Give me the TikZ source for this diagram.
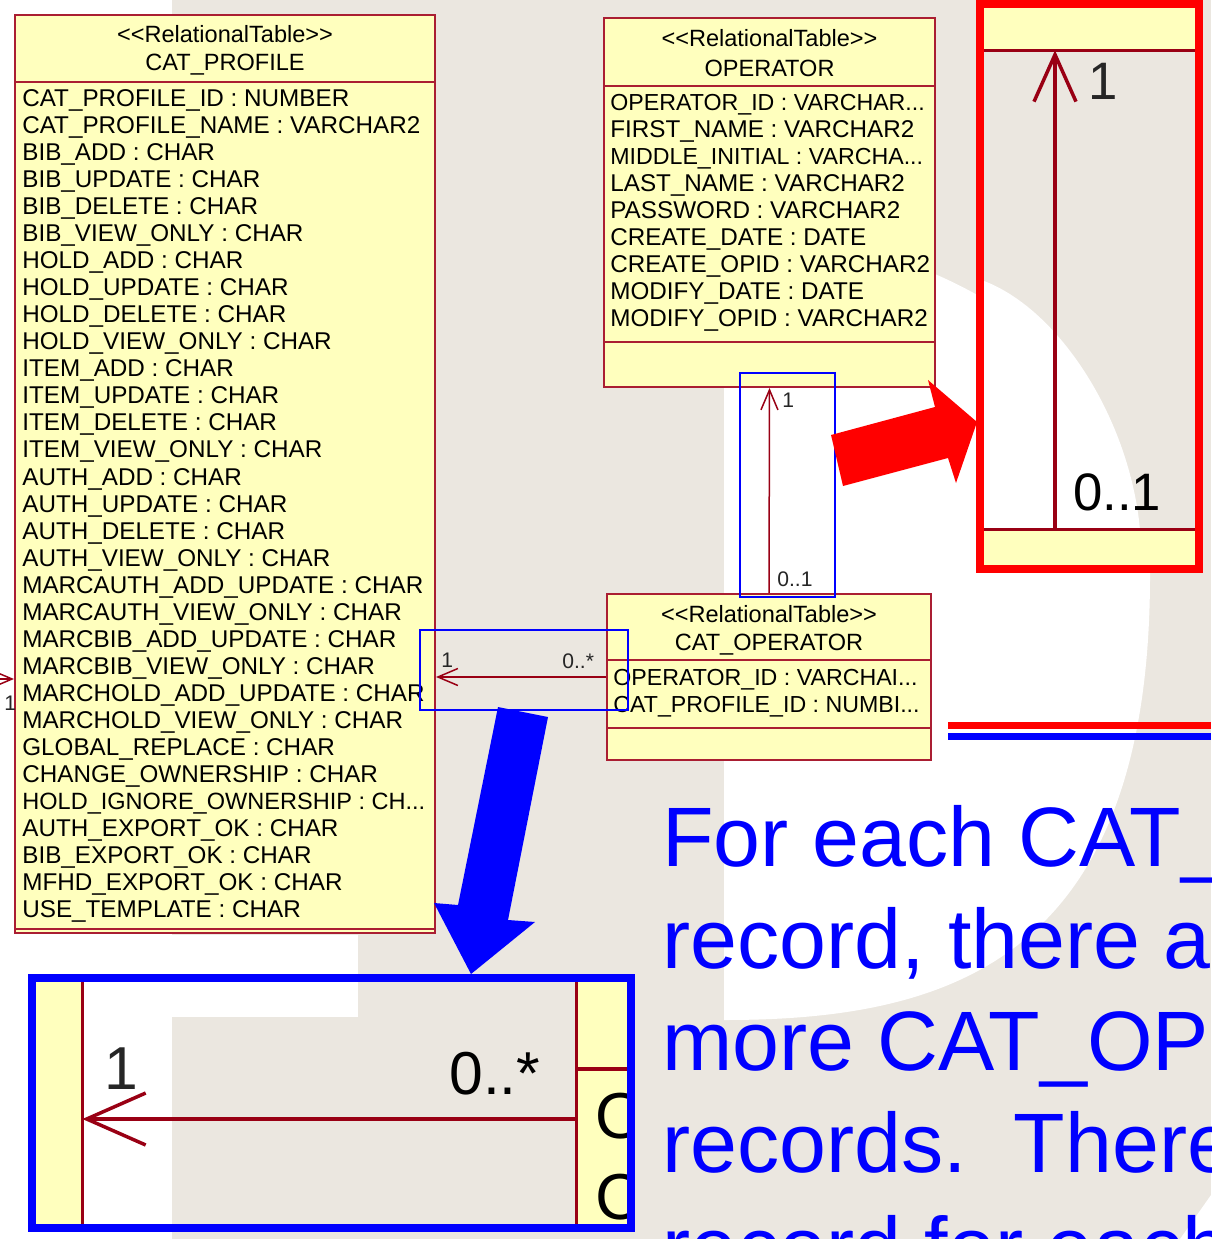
\documentclass[tikz,border=0pt]{standalone}
\usepackage{fontspec}
\setmainfont{Liberation Sans}
\usetikzlibrary{arrows.meta,fit}

\definecolor{umlyellow}{RGB}{255,255,190}
\definecolor{umlred}{RGB}{170,30,50}
\definecolor{linkred}{RGB}{153,0,20}
\definecolor{slidebeige}{RGB}{235,231,224}

\begin{document}
\begin{tikzpicture}[x=0.02cm, y=-0.02cm,
    umltable/.style={draw=umlred, fill=umlyellow, line width=0.04cm, inner sep=0pt},
    compart/.style={draw=umlred, line width=0.03cm},
    attr/.style={anchor=base west, inner sep=0pt, font=\fontsize{13.8}{16}\selectfont},
    cutattr/.style={attr, font=\fontsize{13.2}{16}\selectfont},
    titletext/.style={anchor=base, inner sep=0pt, font=\fontsize{13.4}{16}\selectfont},
    assoc/.style={draw=linkred, line width=0.03cm, -{Straight Barb[length=0.4cm, width=0.34cm]}},
    multlabel/.style={anchor=base west, inner sep=0pt, font=\fontsize{12}{14}\selectfont, text=black!85},
    hilite/.style={draw=blue, line width=0.04cm, inner sep=0pt},
    zoomline/.style={draw=linkred, line width=0.07cm},
    zoomframe/.style={line width=0.16cm, inner sep=0pt},
    bigtext/.style={anchor=base west, inner sep=0pt, text=blue, font=\fontsize{48}{58}\selectfont}
        ]

    \path [use as bounding box] (0,0) rectangle (1211,1239);
    \clip (0,0) rectangle (1211,1239);

    % slide background with the big letters
    \fill [slidebeige] (0,0) rectangle (1211,1239);
    \fill [white] (0,0) rectangle (172,1239);
    \fill [white] (0,935) rectangle (358,975);
    \fill [white] (724,1020) -- (724,230) .. controls (900,230) and (1150,330) .. (1150,575)
        .. controls (1150,960) and (950,1020) .. (724,1020) -- cycle;
    \fill [white] (1211,1195) -- (1180,1239) -- (1211,1239) -- cycle;

    % CAT_PROFILE
    \node [umltable, fit={(15,15) (435,933)}] (profile) {};
    \draw [compart] (profile.west |- 0,82) -- (profile.east |- 0,82);
    \draw [compart] (profile.west |- 0,929) -- (profile.east |- 0,929);
    \node [titletext] (profst) at (225,43) {<\kern0pt<RelationalTable>\kern0pt>};
    \node [titletext] (profname) at (225,71) {CAT\_PROFILE};

    \node [attr] (p1) at (22,107) {CAT\_PROFILE\_ID : NUMBER};
    \node [attr] (p2) at (22,134) {CAT\_PROFILE\_NAME : VARCHAR2};
    \node [attr] (p3) at (22,161) {BIB\_ADD : CHAR};
    \node [attr] (p4) at (22,188) {BIB\_UPDATE : CHAR};
    \node [attr] (p5) at (22,215) {BIB\_DELETE : CHAR};
    \node [attr] (p6) at (22,242) {BIB\_VIEW\_ONLY : CHAR};
    \node [attr] (p7) at (22,269) {HOLD\_ADD : CHAR};
    \node [attr] (p8) at (22,296) {HOLD\_UPDATE : CHAR};
    \node [attr] (p9) at (22,323) {HOLD\_DELETE : CHAR};
    \node [attr] (p10) at (22,350) {HOLD\_VIEW\_ONLY : CHAR};
    \node [attr] (p11) at (22,377) {ITEM\_ADD : CHAR};
    \node [attr] (p12) at (22,404) {ITEM\_UPDATE : CHAR};
    \node [attr] (p13) at (22,431) {ITEM\_DELETE : CHAR};
    \node [attr] (p14) at (22,458) {ITEM\_VIEW\_ONLY : CHAR};
    \node [attr] (p15) at (22,485) {AUTH\_ADD : CHAR};
    \node [attr] (p16) at (22,512) {AUTH\_UPDATE : CHAR};
    \node [attr] (p17) at (22,539) {AUTH\_DELETE : CHAR};
    \node [attr] (p18) at (22,566) {AUTH\_VIEW\_ONLY : CHAR};
    \node [attr] (p19) at (22,593) {MARCAUTH\_ADD\_UPDATE : CHAR};
    \node [attr] (p20) at (22,620) {MARCAUTH\_VIEW\_ONLY : CHAR};
    \node [attr] (p21) at (22,647) {MARCBIB\_ADD\_UPDATE : CHAR};
    \node [attr] (p22) at (22,674) {MARCBIB\_VIEW\_ONLY : CHAR};
    \node [attr] (p23) at (22,701) {MARCHOLD\_ADD\_UPDATE : CHAR};
    \node [attr] (p24) at (22,728) {MARCHOLD\_VIEW\_ONLY : CHAR};
    \node [attr] (p25) at (22,755) {GLOBAL\_REPLACE : CHAR};
    \node [attr] (p26) at (22,782) {CHANGE\_OWNERSHIP : CHAR};
    \node [attr, font=\fontsize{13.4}{16}\selectfont] (p27) at (22,809) {HOLD\_IGNORE\_OWNERSHIP : CH...};
    \node [attr] (p28) at (22,836) {AUTH\_EXPORT\_OK : CHAR};
    \node [attr] (p29) at (22,863) {BIB\_EXPORT\_OK : CHAR};
    \node [attr] (p30) at (22,890) {MFHD\_EXPORT\_OK : CHAR};
    \node [attr] (p31) at (22,917) {USE\_TEMPLATE : CHAR};

    % OPERATOR
    \node [umltable, fit={(604,18) (935,387)}] (oper) {};
    \draw [compart] (oper.west |- 0,86) -- (oper.east |- 0,86);
    \draw [compart] (oper.west |- 0,342) -- (oper.east |- 0,342);
    \node [titletext] (operst) at (769.5,46.5) {<\kern0pt<RelationalTable>\kern0pt>};
    \node [titletext] (opername) at (769.5,76.5) {OPERATOR};

    \node [cutattr] (o1) at (610,110.5) {OPERATOR\_ID : VARCHAR...};
    \node [attr] (o2) at (610,137.5) {FIRST\_NAME : VARCHAR2};
    \node [cutattr] (o3) at (610,164.5) {MIDDLE\_INITIAL : VARCHA...};
    \node [attr] (o4) at (610,191.5) {LAST\_NAME : VARCHAR2};
    \node [attr] (o5) at (610,218.5) {PASSWORD : VARCHAR2};
    \node [attr] (o6) at (610,246) {CREATE\_DATE : DATE};
    \node [attr] (o7) at (610,273) {CREATE\_OPID : VARCHAR2};
    \node [attr] (o8) at (610,299.5) {MODIFY\_DATE : DATE};
    \node [attr] (o9) at (610,326.5) {MODIFY\_OPID : VARCHAR2};

    % CAT_OPERATOR
    \node [umltable, fit={(607,594) (931,760)}] (catop) {};
    \draw [compart] (catop.west |- 0,660) -- (catop.east |- 0,660);
    \draw [compart] (catop.west |- 0,728) -- (catop.east |- 0,728);
    \node [titletext] (catopst) at (769,622.5) {<\kern0pt<RelationalTable>\kern0pt>};
    \node [titletext] (catopname) at (769,650.5) {CAT\_OPERATOR};

    \node [cutattr] (c1) at (613,685.5) {OPERATOR\_ID : VARCHAI...};
    \node [cutattr] (c2) at (613,712) {CAT\_PROFILE\_ID : NUMBI...};

    % associations
    \draw [assoc] (catop.north) -- (oper.south);
    \node [multlabel] (m1) at (782,408) {1};
    \node [multlabel] (m2) at (777,586) {0..1};

    \draw [assoc] (catop.west) -- (profile.east |- catop.west);
    \node [multlabel] (m3) at (441,667) {1};
    \node [multlabel] (m4) at (562,668) {0..*};

    \coordinate (offleft) at (0,679);
    \draw [assoc] (offleft) -- (profile.west |- offleft);
    \node [multlabel] (m5) at (4,710) {1};

    \node [hilite, fit={(740,373) (835,597)}] (hivert) {};
    \node [hilite, fit={(420,630) (628,710)}] (hihorz) {};

    % pointer arrows
    \fill [blue] (498,707) -- (548,717) -- (508,920) -- (535,922) -- (471,974)
        -- (434,903) -- (458,905) -- cycle;
    \fill [red] (831,435) -- (935,407) -- (928,380) -- (977,422) -- (956,483)
        -- (948,458) -- (843,486) -- cycle;

    % red close-up of the 1 -- 0..1 link
    \begin{scope}
        \clip (984,8) rectangle (1195,566);
        \fill [slidebeige] (984,8) rectangle (1195,566);
        \fill [white] (984,281) .. controls (1060,310) and (1130,420) .. (1140,530)
            -- (984,530) -- cycle;
        \node [inner sep=0pt, fill=umlyellow, fit={(984,8) (1195,50)}] (zoomhead) {};
        \node [inner sep=0pt, fill=umlyellow, fit={(984,530) (1195,566)}] (zoomfoot) {};
        \draw [zoomline] (zoomhead.south west) -- (zoomhead.south east);
        \draw [zoomline] (zoomfoot.north west) -- (zoomfoot.north east);
        \coordinate (zx) at (1055,0);
        \draw [zoomline, -{Straight Barb[length=0.94cm, width=0.84cm]}]
            (zoomfoot.north -| zx) -- (zoomhead.south -| zx);
        \node [anchor=base west, inner sep=0pt, font=\fontsize{30}{32}\selectfont, text=black!85]
            (zm1) at (1088,100) {1};
        \node [anchor=base west, inner sep=0pt, font=\fontsize{30}{32}\selectfont]
            (zm2) at (1073,510) {0..1};
    \end{scope}
    \node [zoomframe, draw=red, fit={(980,4) (1199,569)}] (redzoom) {};

    % blue close-up of the 1 -- 0..* link
    \begin{scope}
        \clip (36,982) rectangle (627,1224);
        \fill [slidebeige] (36,982) rectangle (627,1224);
        \fill [white] (82,982) rectangle (172,1224);
        \fill [white] (82,982) rectangle (358,1017);
        \node [inner sep=0pt, fill=umlyellow, fit={(36,982) (82,1224)}] (zoomleft) {};
        \node [inner sep=0pt, fill=umlyellow, fit={(577,982) (627,1224)}] (zoomright) {};
        \draw [zoomline] (zoomleft.north east) -- (zoomleft.south east);
        \draw [zoomline] (zoomright.north west) -- (zoomright.south west);
        \draw [zoomline] (zoomright.west |- 0,1069) -- (zoomright.east |- 0,1069);
        \coordinate (zy) at (0,1119);
        \draw [zoomline, -{Straight Barb[length=1.18cm, width=1.04cm]}]
            (zoomright.west |- zy) -- (zoomleft.east |- zy);
        \node [anchor=base west, inner sep=0pt, font=\fontsize{37}{40}\selectfont]
            (zo) at (595,1138) {O};
        \node [anchor=base west, inner sep=0pt, font=\fontsize{37}{40}\selectfont]
            (zc) at (595,1219) {C};
        \node [anchor=base west, inner sep=0pt, font=\fontsize{34.5}{38}\selectfont, text=black!85]
            (zm3) at (104,1089) {1};
        \node [anchor=base west, inner sep=0pt, font=\fontsize{34.5}{38}\selectfont]
            (zm4) at (449,1094) {0..*};
    \end{scope}
    \node [zoomframe, draw=blue, fit={(32,978) (631,1228)}] (bluezoom) {};

    % double rule and the note
    \draw [red, line width=0.14cm] (948,725.5) -- (1211,725.5);
    \draw [blue, line width=0.14cm] (948,736) -- (1211,736);

    \node [bigtext] (t1) at (662,866) {For each CAT\_};
    \node [bigtext] (t2) at (662,968) {record, there a};
    \node [bigtext] (t3) at (662,1070) {more CAT\_OP};
    \node [bigtext] (t4) at (662,1172) {records.\ \ There};
    \node [bigtext] (t5) at (662,1276) {record for each};

\end{tikzpicture}
\end{document}
